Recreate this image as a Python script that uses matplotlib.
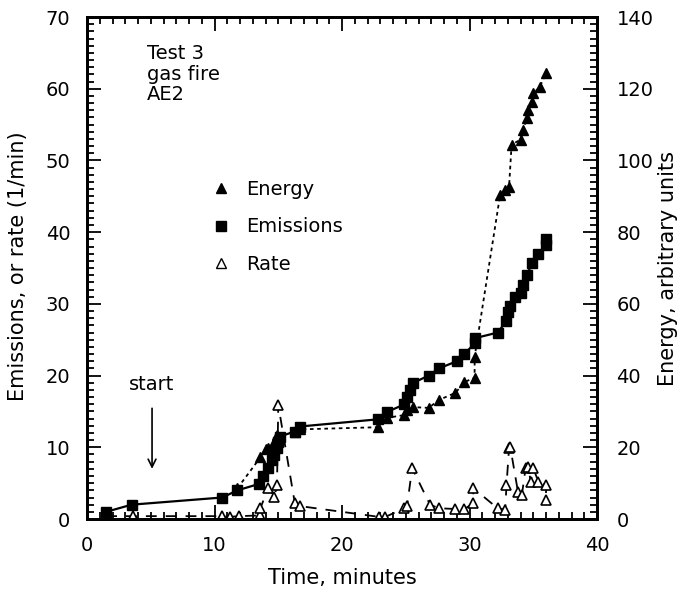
# Test 3 gas fire AE2: emissions, rate and energy vs time
import numpy as np
import matplotlib
matplotlib.use("Agg")
import matplotlib.pyplot as plt
from matplotlib.lines import Line2D
from matplotlib.ticker import MultipleLocator

# Emissions (left axis)
em_t = [1.5, 3.5, 10.6, 11.8, 13.5, 13.8, 14.2, 14.5, 14.7, 14.9, 15.0, 15.1,
        16.3, 16.7, 22.8, 23.5, 24.9, 25.1, 25.3, 25.6, 26.8, 27.6, 29.0, 29.6,
        30.4, 30.4, 32.2, 32.9, 33.0, 33.2, 33.6, 34.0, 34.2, 34.5, 34.9, 35.4,
        36.0, 36.0]
em_v = [1.0, 2.0, 3.0, 4.0, 4.9, 6.0, 7.1, 8.2, 8.9, 9.9, 10.8, 11.5,
        12.2, 12.9, 13.9, 14.9, 16.0, 17.0, 18.0, 19.0, 20.0, 21.0, 22.0, 23.0,
        24.5, 25.2, 26.0, 27.6, 28.8, 29.7, 31.0, 31.5, 32.6, 34.0, 35.7, 37.0,
        38.2, 39.0]

# Energy (right axis, arbitrary units)
en_t = [11.8, 13.6, 14.0, 14.2, 14.6, 14.9, 16.3, 16.7, 22.8, 23.5, 24.9, 25.1,
        25.6, 26.8, 27.6, 28.9, 29.6, 30.4, 30.4, 32.4, 32.8, 33.1, 33.3, 34.0,
        34.2, 34.5, 34.6, 34.9, 35.0, 35.5, 36.0]
en_v = [8.6, 17.2, 19.6, 19.8, 21.0, 23.4, 24.2, 25.0, 25.6, 28.2, 29.0, 30.4,
        31.2, 31.0, 33.2, 35.2, 38.2, 39.4, 45.2, 90.4, 91.8, 92.6, 104.4, 105.8,
        108.6, 111.8, 114.0, 116.4, 118.8, 120.4, 124.4]

# Rate (left axis)
rt_t = [1.5, 3.6, 10.6, 11.2, 11.9, 13.6, 13.6, 14.2, 14.7, 14.9, 15.0, 16.3,
        16.7, 22.9, 23.4, 24.9, 25.1, 25.5, 26.9, 27.6, 28.9, 29.6, 30.3, 30.3,
        32.2, 32.8, 32.9, 33.1, 33.2, 33.8, 34.1, 34.4, 34.6, 34.8, 35.0, 35.4,
        36.0, 36.0]
rt_v = [0.4, 0.4, 0.4, 0.3, 0.4, 0.5, 1.5, 4.3, 3.1, 4.7, 15.9, 2.2,
        1.8, 0.3, 0.3, 1.5, 1.8, 7.1, 2.0, 1.5, 1.4, 1.4, 2.2, 4.3,
        1.5, 1.3, 4.7, 9.9, 10.0, 3.8, 3.3, 7.1, 7.3, 5.2, 7.1, 5.2,
        4.7, 2.7]

plt.rcParams['font.family'] = 'DejaVu Sans'
plt.rcParams['font.size'] = 14

fig = plt.figure(figsize=(6.82, 5.95), dpi=100)
ax = fig.add_axes([0.1276, 0.1277, 0.7478, 0.8437])
ax2 = ax.twinx()

ax.plot(rt_t, rt_v, color='black', lw=1.3, ls=(0, (6, 5)), marker='^',
        ms=7.5, mfc='white', mec='black', mew=1.2, zorder=2)
ax.plot(em_t, em_v, color='black', lw=1.6, ls='-', marker='s',
        ms=6.5, mfc='black', mec='black', zorder=3)
ax2.plot(en_t, en_v, color='black', lw=1.3, ls=(0, (2, 2)), marker='^',
         ms=7.5, mfc='black', mec='black', zorder=3)

ax.set_xlim(0, 40)
ax.set_ylim(0, 70)
ax2.set_ylim(0, 140)

ax.xaxis.set_major_locator(MultipleLocator(10))
ax.xaxis.set_minor_locator(MultipleLocator(1))
ax.yaxis.set_major_locator(MultipleLocator(10))
ax.yaxis.set_minor_locator(MultipleLocator(1))
ax2.yaxis.set_major_locator(MultipleLocator(20))
ax2.yaxis.set_minor_locator(MultipleLocator(2))

ax.tick_params(which='both', direction='in', top=True, right=False, width=1.3)
ax.tick_params(which='major', length=10, pad=12)
ax.tick_params(which='minor', length=5)
ax2.tick_params(which='both', direction='in', width=1.3)
ax2.tick_params(which='major', length=10, pad=14)
ax2.tick_params(which='minor', length=5)

for a in (ax, ax2):
    for s in a.spines.values():
        s.set_linewidth(2)

# axis titles placed in figure coordinates
fig.text(0.5 * (87 + 597) / 682, 1 - 578 / 595, "Time, minutes",
         ha='center', va='center', fontsize=15)
fig.text(18 / 682, 1 - 266 / 595, "Emissions, or rate (1/min)",
         ha='center', va='center', rotation=90, fontsize=15)
fig.text(668 / 682, 1 - 268 / 595, "Energy, arbitrary units",
         ha='center', va='center', rotation=90, fontsize=15)

ax.text(4.7, 66.2, "Test 3\ngas fire\nAE2", va='top', ha='left', linespacing=1.1)

ax.annotate("start", xy=(5.1, 7.0), xytext=(5.1, 18.7), ha='center', va='center',
            arrowprops=dict(arrowstyle='->', color='black', lw=1.2,
                            shrinkA=8, shrinkB=0))

handles = [
    Line2D([], [], ls='none', marker='^', ms=7.5, mfc='black', mec='black'),
    Line2D([], [], ls='none', marker='s', ms=6.5, mfc='black', mec='black'),
    Line2D([], [], ls='none', marker='^', ms=7.5, mfc='white', mec='black'),
]
ax.legend(handles, ["Energy", "Emissions", "Rate"], loc='upper left',
          bbox_to_anchor=(0.225, 0.695), frameon=False, handlelength=1.0,
          handletextpad=0.8, labelspacing=0.95, borderpad=0)

fig.savefig("out.png", dpi=100)
